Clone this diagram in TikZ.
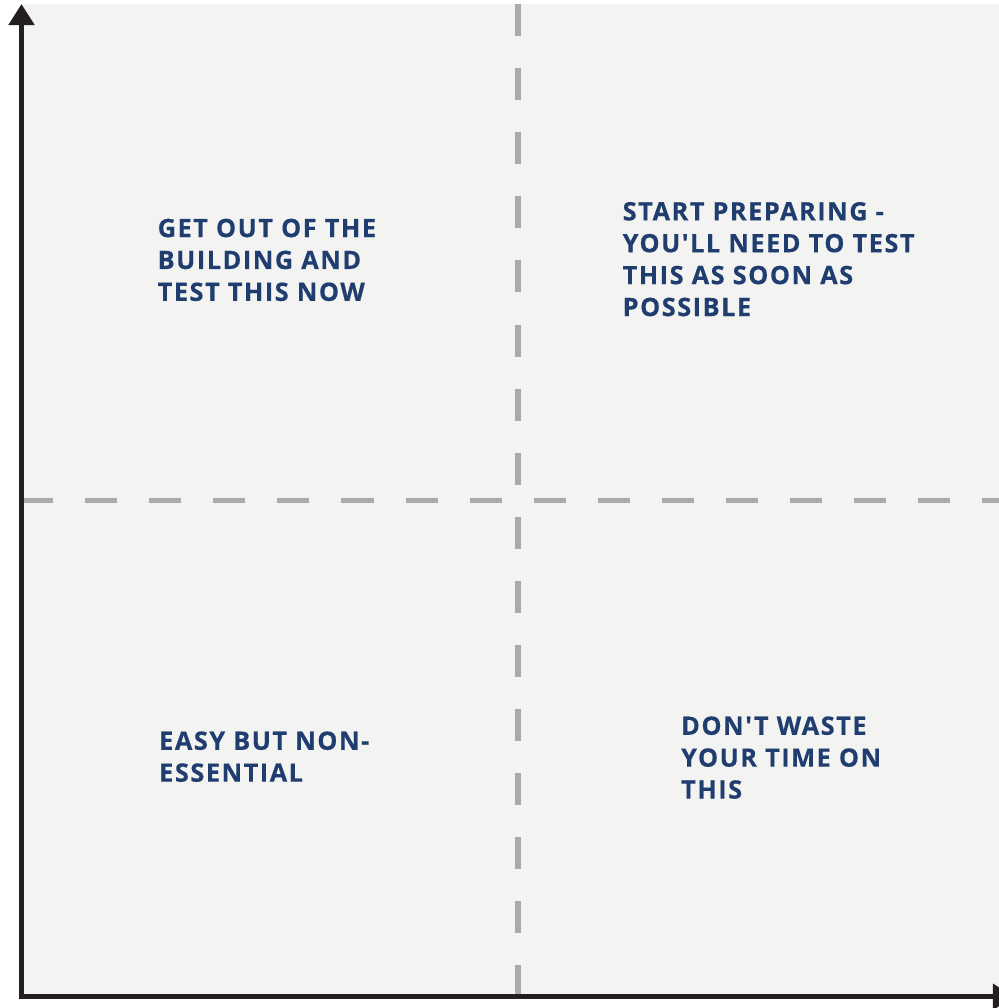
\documentclass[tikz,border=0pt]{standalone}
\usepackage{fontspec}
\setmainfont{Open Sans}[Ligatures=TeXOff, LetterSpace=6, BoldFeatures={FakeBold=0.4}]
\usetikzlibrary{arrows.meta}

\definecolor{quadbg}{HTML}{F3F3F2}
\definecolor{quadnavy}{HTML}{1F3D6E}
\definecolor{quaddash}{HTML}{AAAAAA}
\definecolor{quadaxis}{HTML}{231F20}

\tikzset{
  quadtext/.style={anchor=north west, inner sep=0pt, align=left,
    text=quadnavy, font=\fontsize{7.2}{9.07}\selectfont\bfseries},
  divider/.style={quaddash, line width=0.05cm, dash pattern=on 0.32cm off 0.32cm},
  axisline/.style={quadaxis, line width=0.05cm,
    {Triangle[length=0.21cm,width=0.25cm]}-{Triangle[length=0.21cm,width=0.25cm]}}
}

\begin{document}
\begin{tikzpicture}[x=0.01cm, y=-0.01cm]
    \useasboundingbox (0,0) rectangle (999,1008);
    \fill[quadbg] (21.5,4) rectangle (999,996.8);
    \coordinate (vtop) at (518,4.3);
    \coordinate (vbot) at (518,996.8);
    \coordinate (hleft) at (21.3,500.8);
    \coordinate (hright) at (999,500.8);
    \draw[divider] (vtop) -- (vbot);
    \draw[divider] (hleft) -- (hright);
    \coordinate (ytop) at (21.5,4);
    \coordinate (xend) at (1014,996.8);
    \draw[axisline] (ytop) |- (xend);
    \node[quadtext] (getout) at (157,218) {GET OUT OF THE\\BUILDING AND\\TEST THIS NOW};
    \node[quadtext] (prepare) at (622,201.3) {START PREPARING -\\YOU'LL NEED TO TEST\\THIS AS SOON AS\\POSSIBLE};
    \node[quadtext] (easy) at (158.5,730.7) {EASY BUT NON-\\ESSENTIAL};
    \node[quadtext] (waste) at (680.5,715.7) {DON'T WASTE\\YOUR TIME ON\\THIS};
\end{tikzpicture}
\end{document}
